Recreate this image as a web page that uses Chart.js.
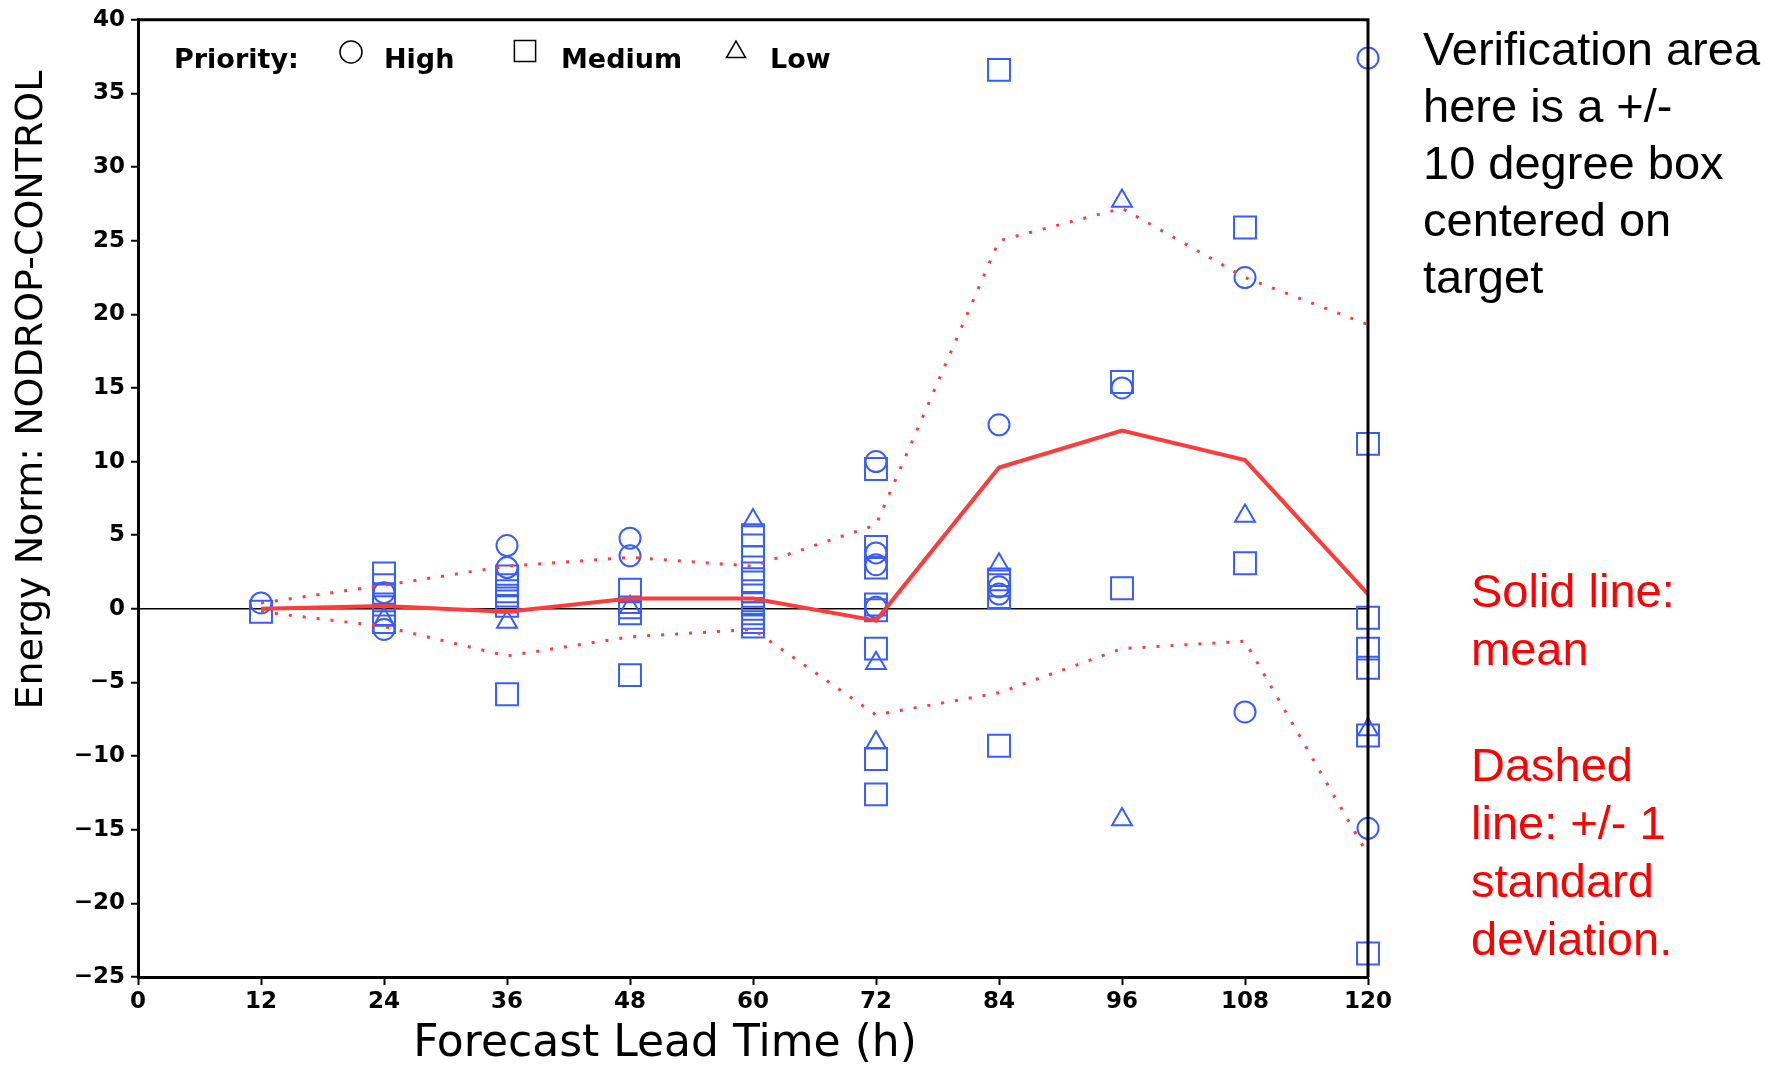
<!DOCTYPE html>
<html>
<head>
<meta charset="utf-8">
<script src="https://cdn.jsdelivr.net/npm/chart.js@4/dist/chart.umd.min.js"></script>
<style>
  html, body { margin: 0; padding: 0; background: #fff; }
  #wrap { width: 1781px; height: 1065px; position: relative; }
</style>
</head>
<body>
<div id="wrap"><canvas id="energyChart"></canvas></div>
<script>
// lead times where mean / std lines are plotted
const leadTimes = [12, 24, 36, 48, 60, 72, 84, 96, 108, 120];
const meanValues = [0.0, 0.2, -0.2, 0.7, 0.7, -0.8, 9.6, 12.1, 10.1, 1.0];
const upperValues = [0.4, 1.6, 2.9, 3.5, 2.9, 5.7, 25.0, 27.2, 22.5, 19.3];
const lowerValues = [-0.2, -1.2, -3.2, -1.9, -1.4, -7.2, -5.7, -2.7, -2.2, -16.7];

// individual cases, [lead time, energy norm difference]
const highPoints = [[12, 0.4], [24, 1.1], [24, -1.4], [36, 4.3], [36, 2.8], [48, 4.8], [48, 3.6],
  [72, 10.0], [72, 3.8], [72, 3.0], [72, 0.1], [84, 12.5], [84, 1.5], [84, 1.0],
  [96, 15.0], [108, 22.5], [108, -7.0], [120, 37.4], [120, -14.9]];
const mediumPoints = [[12, -0.2], [24, 2.4], [24, 1.6], [24, 1.0], [24, 0.3], [24, -0.4], [24, -0.9],
  [36, 2.2], [36, 1.6], [36, 1.2], [36, 0.9], [36, 0.5], [36, 0.2], [36, -5.8],
  [48, 1.3], [48, 0.1], [48, -0.3], [48, -4.5],
  [60, 5.0], [60, 4.3], [60, 3.5], [60, 2.4], [60, 1.8], [60, 1.2], [60, 0.4], [60, 0.0],
  [60, -0.3], [60, -0.6], [60, -0.9], [60, -1.2],
  [72, 9.5], [72, 4.2], [72, 2.8], [72, 0.3], [72, -0.1], [72, -2.7], [72, -10.2], [72, -12.6],
  [84, 36.6], [84, 2.0], [84, 1.6], [84, 0.8], [84, -9.3],
  [96, 15.4], [96, 1.4], [108, 25.9], [108, 3.1],
  [120, 11.2], [120, -0.6], [120, -2.7], [120, -4.0], [120, -8.6], [120, -23.4]];
const lowPoints = [[24, -0.7], [36, -0.9], [48, 0.1], [60, 6.0], [72, -3.7], [72, -9.1],
  [84, 3.0], [96, 27.7], [96, -14.3], [108, 6.3], [120, -8.2]];

const xTickValues = [0, 12, 24, 36, 48, 60, 72, 84, 96, 108, 120];
const yTickValues = [-25, -20, -15, -10, -5, 0, 5, 10, 15, 20, 25, 30, 35, 40];

const xTitle = "Forecast Lead Time (h)";
const yTitle = "Energy Norm: NODROP-CONTROL";
const legendTitle = "Priority:";
const legendLabels = ["High", "Medium", "Low"];
const noteBlack = ["Verification area", "here is a +/-", "10 degree box", "centered on", "target"];
const noteRed = ["Solid line:", "mean", "", "Dashed", "line: +/- 1", "standard", "deviation."];

const BLUE = "#3a5cff";
const RED = "#ff3c3c";

const toXY = pts => pts.map(p => ({ x: p[0], y: p[1] }));
const lineXY = vals => leadTimes.map((t, i) => ({ x: t, y: vals[i] }));

function marker(ctx, style, x, y, r) {
  ctx.beginPath();
  if (style === "circle") {
    ctx.arc(x, y, r, 0, Math.PI * 2);
  } else if (style === "rect") {
    const s = r * Math.SQRT1_2;
    ctx.rect(x - s, y - s, 2 * s, 2 * s);
  } else {
    for (let k = 0; k < 3; k++) {
      const a = k * 2 * Math.PI / 3;
      const px = x + Math.sin(a) * r, py = y - Math.cos(a) * r;
      if (k === 0) ctx.moveTo(px, py); else ctx.lineTo(px, py);
    }
    ctx.closePath();
  }
  ctx.stroke();
}

// frame, legend, titles and side notes
const decorations = {
  id: "decorations",
  afterDatasetsDraw(chart) {
    const { ctx, chartArea: a } = chart;
    ctx.save();
    ctx.strokeStyle = "#000";
    ctx.lineWidth = 3;
    ctx.beginPath();
    ctx.moveTo(a.left, a.top);
    ctx.lineTo(a.right, a.top);
    ctx.lineTo(a.right, a.bottom);
    ctx.stroke();
    ctx.restore();
  },
  afterDraw(chart) {
    const { ctx } = chart;
    ctx.save();
    ctx.fillStyle = "#000";
    ctx.textBaseline = "middle";

    // legend
    ctx.font = "bold 27px 'DejaVu Sans'";
    ctx.textAlign = "left";
    ctx.fillText(legendTitle, 174, 61);
    ctx.fillText(legendLabels[0], 384, 61);
    ctx.fillText(legendLabels[1], 561, 61);
    ctx.fillText(legendLabels[2], 770, 61);
    ctx.strokeStyle = "#000";
    ctx.lineWidth = 1.5;
    marker(ctx, "circle", 351, 52, 11);
    marker(ctx, "rect", 525, 51, 15);
    marker(ctx, "triangle", 736, 52, 11);

    // axis titles
    ctx.font = "44px 'DejaVu Sans'";
    ctx.textAlign = "center";
    ctx.fillText(xTitle, 665, 1045);
    ctx.font = "38px 'DejaVu Sans'";
    ctx.save();
    ctx.translate(32, 390);
    ctx.rotate(-Math.PI / 2);
    ctx.fillText(yTitle, 0, 0);
    ctx.restore();

    // notes on the right
    ctx.font = "47px 'Liberation Sans', Arial, sans-serif";
    ctx.textAlign = "left";
    noteBlack.forEach((t, i) => ctx.fillText(t, 1423, 52 + i * 57));
    ctx.fillStyle = "#ff0000";
    noteRed.forEach((t, i) => ctx.fillText(t, 1471, 594 + i * 58));
    ctx.restore();
  }
};

const scatterStyle = (label, data, style, radius) => ({
  type: "scatter",
  label,
  data: toXY(data),
  pointStyle: style,
  pointRadius: radius,
  pointBorderWidth: 2,
  pointBorderColor: BLUE,
  pointBackgroundColor: "rgba(0,0,0,0)",
  clip: false
});

Chart.defaults.color = "#000";
Chart.defaults.font.family = "'DejaVu Sans', sans-serif";

new Chart(document.getElementById("energyChart"), {
  type: "scatter",
  data: {
    datasets: [
      {
        type: "line", label: "Mean", data: lineXY(meanValues),
        borderColor: RED, borderWidth: 4, pointRadius: 0, fill: false, clip: false
      },
      {
        type: "line", label: "+1 SD", data: lineXY(upperValues),
        borderColor: RED, borderWidth: 3, borderDash: [3, 11], pointRadius: 0, fill: false, clip: false
      },
      {
        type: "line", label: "-1 SD", data: lineXY(lowerValues),
        borderColor: RED, borderWidth: 3, borderDash: [3, 11], pointRadius: 0, fill: false, clip: false
      },
      scatterStyle("High", highPoints, "circle", 10.5),
      scatterStyle("Medium", mediumPoints, "rect", 15.5),
      scatterStyle("Low", lowPoints, "triangle", 11.5)
    ]
  },
  options: {
    responsive: true,
    maintainAspectRatio: false,
    animation: false,
    layout: { padding: { left: 0, right: 413, top: 18, bottom: 0 } },
    plugins: {
      legend: { display: false },
      tooltip: { enabled: false }
    },
    scales: {
      x: {
        type: "linear",
        min: 0,
        max: 120,
        afterBuildTicks: s => { s.ticks = xTickValues.map(v => ({ value: v })); },
        afterFit: s => { s.height = 88; },
        grid: { drawOnChartArea: false, tickLength: 8, tickColor: "#000", tickWidth: 2 },
        border: { display: true, color: "#000", width: 3 },
        ticks: { font: { size: 23, weight: "bold" }, padding: 3, maxRotation: 0 }
      },
      y: {
        type: "linear",
        min: -25,
        max: 40,
        afterBuildTicks: s => { s.ticks = yTickValues.map(v => ({ value: v })); },
        afterFit: s => { s.width = 138; },
        grid: {
          color: c => (c.tick && c.tick.value === 0 ? "#000" : "rgba(0,0,0,0)"),
          lineWidth: 1.5,
          tickLength: 7, tickColor: "#000", tickWidth: 2
        },
        border: { display: true, color: "#000", width: 3 },
        ticks: {
          font: { size: 23, weight: "bold" },
          padding: 6,
          callback: v => String(v).replace("-", "\u2212")
        }
      }
    }
  },
  plugins: [decorations]
});
</script>
</body>
</html>
